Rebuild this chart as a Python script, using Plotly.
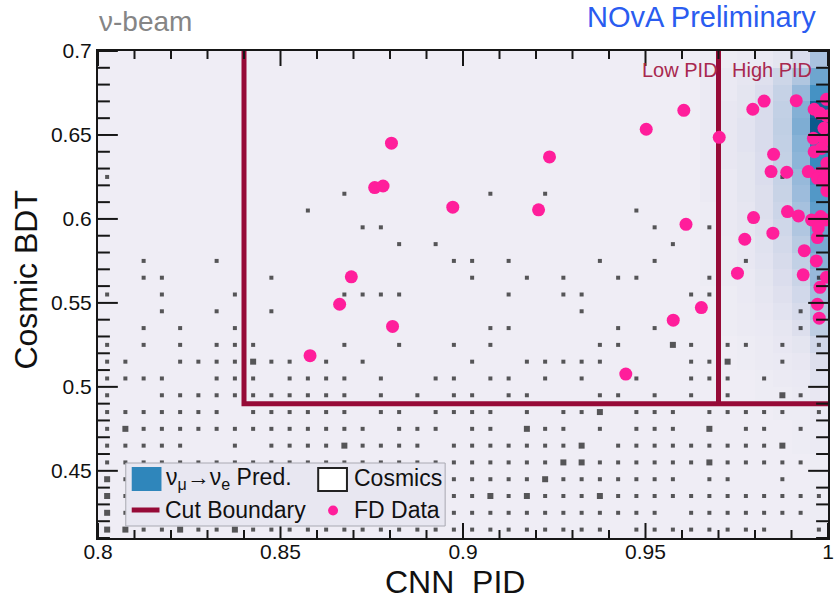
import numpy as np
import plotly.graph_objects as go

# ---------------------------------------------------------------------------
# Binning shared by the two 2D histograms (CNN PID x Cosmic BDT)
# ---------------------------------------------------------------------------
cnn_edges = np.linspace(0.80, 1.00, 41)          # 40 bins of 0.005
bdt_edges = np.linspace(0.41, 0.70, 30)          # 29 bins of 0.01
cnn_centers = 0.5 * (cnn_edges[:-1] + cnn_edges[1:])
bdt_centers = 0.5 * (bdt_edges[:-1] + bdt_edges[1:])   # ascending

# ---------------------------------------------------------------------------
# nu_mu -> nu_e prediction (relative bin content, 0-100), highest-PID columns.
# Each list runs from the top BDT bin (0.69-0.70) down to the bottom bin.
# ---------------------------------------------------------------------------
sig_cnn_0965 = [1, 2, 2, 2, 2, 2, 2, 2, 2, 1, 1, 1, 1, 1, 0, 0, 0, 0, 0, 0, 0, 0, 0, 0, 0, 0, 0, 0, 0]
sig_cnn_0970 = [1, 3, 3, 4, 4, 4, 4, 3, 3, 3, 3, 2, 2, 2, 1, 1, 1, 0, 0, 0, 0, 0, 0, 0, 0, 0, 0, 0, 0]
sig_cnn_0975 = [2, 5, 6, 6, 7, 7, 6, 6, 6, 5, 5, 4, 4, 3, 3, 2, 2, 1, 1, 0, 0, 0, 0, 0, 0, 0, 0, 0, 0]
sig_cnn_0980 = [3, 9, 11, 12, 12, 12, 11, 11, 10, 10, 9, 8, 7, 6, 5, 4, 3, 2, 2, 1, 1, 0, 0, 0, 0, 0, 0, 0, 0]
sig_cnn_0985 = [6, 18, 22, 24, 25, 24, 23, 22, 21, 19, 17, 15, 13, 11, 9, 7, 5, 4, 3, 2, 1, 1, 0, 0, 0, 0, 0, 0, 0]
sig_cnn_0990 = [12, 32, 42, 48, 50, 47, 45, 42, 40, 36, 32, 28, 24, 20, 16, 13, 10, 6, 4, 3, 2, 1, 1, 1, 0, 0, 0, 0, 0]
sig_cnn_0995 = [35, 55, 68, 95, 100, 78, 72, 68, 64, 60, 56, 52, 47, 42, 38, 32, 26, 16, 10, 8, 4, 3, 2, 2, 1, 1, 1, 1, 1]
signal_columns = {33: sig_cnn_0965, 34: sig_cnn_0970, 35: sig_cnn_0975, 36: sig_cnn_0980,
                  37: sig_cnn_0985, 38: sig_cnn_0990, 39: sig_cnn_0995}

# ---------------------------------------------------------------------------
# Cosmic background, drawn as boxes (0 empty, 1 one entry, 2 two entries).
# One string per BDT bin from top (0.69-0.70) to bottom (0.41-0.42),
# 40 CNN bins per string in groups of ten.
# ---------------------------------------------------------------------------
cosmic_rows = [
    "0000000000 0000000000 0000000000 0000000000",
    "0000000000 0000000000 0000000000 0000000000",
    "0000000000 0000000000 0000000000 0000000000",
    "0000000000 0000000000 0000000000 0000000000",
    "0000000000 0000000000 0000000000 0000000000",
    "0000000000 0000000000 0000000000 0000000000",
    "0000000000 0000000000 0000000000 0000000000",
    "1000000000 0000000000 0000000000 0000000100",
    "0000000000 0001000000 0100100000 0000000000",
    "0000000000 0100000000 0000000001 0000000000",
    "0000000000 0000110000 0000000000 1001000000",
    "0000000000 0000001010 0000000000 0100000000",
    "0010001000 0000000001 1010000100 1000010000",
    "0011000001 0000000000 1001010011 0001000001",
    "1001000100 0001111000 0010011000 0011000000",
    "0001001001 0000000000 0000001000 0000000010",
    "0010100100 0000000000 0110000010 1000000010",
    "1010101110 0001001001 0100000110 0210110101",
    "1100111121 1010100000 1001111100 0011200100",
    "1111001110 1111010011 0110101001 0011101000",
    "1001111111 1111010101 1011000110 1010100210",
    "1111111011 1111011011 1101011201 1101111101",
    "1211111111 1111101110 1102110101 1102011010",
    "1111100101 1112111101 1111112011 1111111200",
    "1111111111 1111111111 1111122111 1112111110",
    "2111111111 1111111111 1111211111 1101100100",
    "2111111111 1111111111 1212111211 1111111111",
    "2111111111 1111111111 1111111111 1011111110",
    "2211211211 1111111111 1111111101 1111111001",
]

# ---------------------------------------------------------------------------
# Far Detector data events
# ---------------------------------------------------------------------------
data_cnn = [
    0.8581, 0.8662, 0.8694, 0.8804, 0.8758, 0.8781, 0.8972, 0.8807,
    0.9237, 0.9207, 0.9502, 0.9605, 0.9611, 0.9653, 0.9576, 0.9446, 0.9702,
    0.9794, 0.9825, 0.9913, 0.9996, 0.9962, 0.9978, 0.9997, 0.9989, 0.9991,
    0.9960, 0.9982, 0.9962, 0.9851, 0.9844, 0.9887, 0.9946, 0.9978, 0.9998,
    0.9997, 0.9971, 0.9989, 0.9997, 0.9997, 0.9796, 0.9849, 0.9889, 0.9919,
    0.9955, 0.9980, 0.9994, 0.9973, 0.9971, 0.9772, 0.9935, 0.9968, 0.9752,
    0.9932, 0.9996, 0.9978, 0.9971, 0.9976,
]
data_bdt = [
    0.5186, 0.5492, 0.5655, 0.6451, 0.6187, 0.6196, 0.6070, 0.5360,
    0.6369, 0.6054, 0.6534, 0.6647, 0.5968, 0.5472, 0.5397, 0.5076, 0.6486,
    0.6653, 0.6702, 0.6704, 0.6712, 0.6653, 0.6629, 0.6613, 0.6540, 0.6470,
    0.6480, 0.6420, 0.6400, 0.6385, 0.6282, 0.6278, 0.6282, 0.6272, 0.6282,
    0.6331, 0.6242, 0.6232, 0.6168, 0.6250, 0.6008, 0.5915, 0.6044, 0.6018,
    0.5994, 0.6014, 0.5994, 0.5945, 0.5889, 0.5879, 0.5811, 0.5750, 0.5677,
    0.5667, 0.5653, 0.5593, 0.5492, 0.5409,
]

# Selection boundaries
cut_cnn_low = 0.84
cut_cnn_high = 0.97
cut_cnn_max = 1.00
cut_bdt = 0.49
cut_bdt_max = 0.70

# Axis ranges and tick spacing
x_range = [0.80, 1.00]
y_range = [0.41, 0.70]
x_major, x_minor = 0.05, 0.01
y_major, y_minor = 0.05, 0.01
y_first_major = 0.45

# ---------------------------------------------------------------------------
# Styling
# ---------------------------------------------------------------------------
FONT = "Liberation Sans, Arial, Helvetica, sans-serif"
BG = "#efedf5"
CUT_COLOR = "#960a37"
PID_TEXT = "#a8284f"
PINK = "#ff1e9b"
BOX_COLOR = "#141414"
PRED_BLUE = "#2f86bb"
AXIS_COLOR = "#161616"

colorscale = [
    [0.00, BG], [0.05, "#e6e6f1"], [0.12, "#d9dcec"], [0.25, "#c0cfe4"],
    [0.40, "#9dbcdc"], [0.55, "#6ea6cf"], [0.70, "#3f8fc2"],
    [0.85, "#1b74ac"], [1.00, "#0c5a8c"],
]

# Plot-area geometry in pixels (used for tick lengths and overlay placement)
PL, PR, PT, PB = 98, 834, 51, 538
PW, PH = PR - PL, PB - PT
x_per_px = (x_range[1] - x_range[0]) / PW
y_per_px = (y_range[1] - y_range[0]) / PH


def fx(px):
    return (px - PL) / PW


def fy(py):
    return (PB - py) / PH


# Assemble the prediction grid (rows ascending in BDT for the heatmap)
n_y, n_x = len(bdt_centers), len(cnn_centers)
signal_z = np.zeros((n_y, n_x))
for col, values in signal_columns.items():
    signal_z[:, col] = values[::-1]

# Expand the cosmic strings into box markers
cos_x, cos_y, cos_n = [], [], []
for row_idx, row in enumerate(cosmic_rows):
    digits = row.replace(" ", "")
    yc = bdt_centers[n_y - 1 - row_idx]
    for col_idx, ch in enumerate(digits):
        if ch != "0":
            cos_x.append(float(cnn_centers[col_idx]))
            cos_y.append(float(yc))
            cos_n.append(int(ch))
box_size = {1: 4.0, 2: 6.0}

# Inward tick marks on all four frame sides, as one polyline with gaps
tick_x, tick_y = [], []
for xv in np.round(np.arange(x_range[0], x_range[1] + 1e-9, x_minor), 4):
    xv = float(xv)
    major = abs(round(xv / x_major) * x_major - xv) < 1e-6
    dy = (15 if major else 8) * y_per_px
    tick_x += [xv, xv, None, xv, xv, None]
    tick_y += [y_range[0], y_range[0] + dy, None, y_range[1], y_range[1] - dy, None]
for yv in np.round(np.arange(y_range[0], y_range[1] + 1e-9, y_minor), 4):
    yv = float(yv)
    major = abs(round(yv / y_major) * y_major - yv) < 1e-6
    dx = (20 if major else 12) * x_per_px
    tick_x += [x_range[0], x_range[0] + dx, None, x_range[1], x_range[1] - dx, None]
    tick_y += [yv, yv, None, yv, yv, None]

fig = go.Figure()

fig.add_trace(go.Heatmap(
    x=cnn_centers, y=bdt_centers, z=signal_z,
    zmin=0, zmax=100, colorscale=colorscale, showscale=False,
    hoverinfo="skip",
))

fig.add_trace(go.Scatter(
    x=cos_x, y=cos_y, mode="markers",
    marker=dict(symbol="square", size=[box_size[n] for n in cos_n],
                color=BOX_COLOR, line=dict(width=0)),
    showlegend=False, hoverinfo="skip",
))

fig.add_trace(go.Scatter(
    x=[cut_cnn_low, cut_cnn_low, cut_cnn_max],
    y=[cut_bdt_max, cut_bdt, cut_bdt],
    mode="lines", line=dict(color=CUT_COLOR, width=5),
    showlegend=False, hoverinfo="skip",
))
fig.add_trace(go.Scatter(
    x=[cut_cnn_high, cut_cnn_high], y=[cut_bdt, cut_bdt_max],
    mode="lines", line=dict(color=CUT_COLOR, width=5),
    showlegend=False, hoverinfo="skip",
))

fig.add_trace(go.Scatter(
    x=data_cnn, y=data_bdt, mode="markers",
    marker=dict(symbol="circle", size=13, color=PINK, line=dict(width=0)),
    showlegend=False,
))

fig.add_trace(go.Scatter(
    x=tick_x, y=tick_y, mode="lines", connectgaps=False,
    line=dict(color=AXIS_COLOR, width=2),
    showlegend=False, hoverinfo="skip",
))

axis_common = dict(
    showgrid=False, zeroline=False, showline=True, linecolor=AXIS_COLOR,
    linewidth=2, mirror=True, ticks="", layer="above traces",
    tickfont=dict(family=FONT, size=21, color="#111111"),
)

fig.update_layout(
    width=840, height=601,
    margin=dict(l=PL, r=840 - PR, t=PT, b=601 - PB),
    paper_bgcolor="white", plot_bgcolor=BG,
    showlegend=False,
    font=dict(family=FONT),
    xaxis=dict(range=x_range, tickmode="linear", tick0=x_range[0], dtick=x_major,
               ticklabelstandoff=-6, **axis_common),
    yaxis=dict(range=y_range, tickmode="linear", tick0=y_first_major, dtick=y_major,
               ticklabelstandoff=0, **axis_common),
)

annotations = [
    dict(text="ν-beam", x=fx(97), y=fy(21), xanchor="left", yanchor="middle",
         font=dict(size=28, color="#858585")),
    dict(text="NOvA Preliminary", x=fx(824), y=fy(17), xanchor="right", yanchor="middle",
         font=dict(size=29, color="#2a5cf0")),
    dict(text="Low PID", x=fx(725), y=fy(70), xanchor="right", yanchor="middle",
         font=dict(size=20, color=PID_TEXT)),
    dict(text="High PID", x=fx(735), y=fy(70), xanchor="left", yanchor="middle",
         font=dict(size=20, color=PID_TEXT)),
    dict(text="CNN  PID", x=fx(458), y=fy(582), xanchor="center", yanchor="middle",
         font=dict(size=32, color="#111111")),
    dict(text="Cosmic BDT", x=fx(25), y=fy(280), xanchor="center", yanchor="middle",
         textangle=-90, font=dict(size=32, color="#111111")),
    # legend entries
    dict(text="ν<sub>μ</sub>→ν<sub>e</sub> Pred.", x=fx(165), y=fy(478),
         xanchor="left", yanchor="middle", font=dict(size=23, color="#111111")),
    dict(text="Cosmics", x=fx(354), y=fy(478), xanchor="left", yanchor="middle",
         font=dict(size=23, color="#111111")),
    dict(text="Cut Boundary", x=fx(164), y=fy(510), xanchor="left", yanchor="middle",
         font=dict(size=23, color="#111111")),
    dict(text="FD Data", x=fx(354), y=fy(510), xanchor="left", yanchor="middle",
         font=dict(size=23, color="#111111")),
]
for a in annotations:
    a.update(xref="paper", yref="paper", showarrow=False)
    a["font"]["family"] = FONT

legend_shapes = [
    # legend frame
    dict(type="rect", x0=fx(126), x1=fx(448), y0=fy(526), y1=fy(463),
         fillcolor="#e8e7f1", line=dict(color="#a9a9b2", width=1)),
    # prediction swatch
    dict(type="rect", x0=fx(132), x1=fx(162), y0=fy(491), y1=fy(467),
         fillcolor=PRED_BLUE, line=dict(width=0)),
    # cosmics swatch
    dict(type="rect", x0=fx(320), x1=fx(349), y0=fy(491), y1=fy(468),
         fillcolor="white", line=dict(color="#222222", width=2)),
    # cut boundary swatch
    dict(type="line", x0=fx(132), x1=fx(160), y0=fy(510), y1=fy(510),
         line=dict(color=CUT_COLOR, width=5)),
    # data swatch
    dict(type="circle", x0=fx(330), x1=fx(340), y0=fy(515.5), y1=fy(505.5),
         fillcolor=PINK, line=dict(width=0)),
]
for s in legend_shapes:
    s.update(xref="paper", yref="paper", layer="above")

fig.update_layout(annotations=annotations, shapes=legend_shapes)

fig.write_html("out.html")
